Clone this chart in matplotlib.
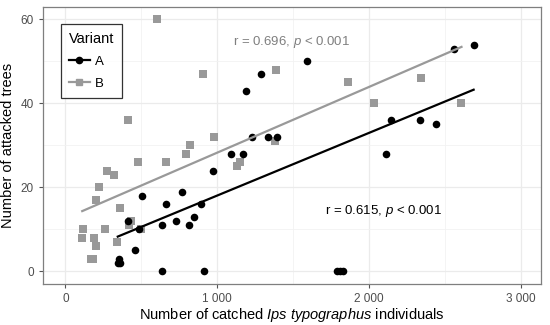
import numpy as np
import matplotlib.pyplot as plt
from matplotlib.lines import Line2D
from matplotlib.ticker import FixedLocator, MultipleLocator

plt.rcParams['font.family'] = ['Liberation Sans', 'DejaVu Sans']
plt.rcParams['mathtext.fontset'] = 'custom'
plt.rcParams['mathtext.rm'] = 'Liberation Sans'
plt.rcParams['mathtext.it'] = 'Liberation Sans:italic'

# variant A (black dots)
a_x = [1287, 1190, 1231, 1335, 1392, 2557, 2689, 1594, 2143, 2333, 2442, 1091,
       1172, 970, 766, 507, 660, 895, 845, 726, 636, 816, 410, 482, 456, 352,
       345, 362, 634, 911, 2113, 1790, 1810, 1830]
a_y = [47, 43, 32, 32, 32, 53, 54, 50, 36, 36, 35, 28,
       28, 24, 19, 18, 16, 16, 13, 12, 11, 11, 12, 10, 5, 3,
       2, 2, 0, 0, 28, 0, 0, 0]

# variant B (grey squares)
b_x = [601, 904, 1388, 410, 981, 823, 1383, 797, 1153, 1128, 478, 665, 272,
       322, 221, 203, 359, 432, 419, 498, 115, 262, 111, 190, 340, 203, 168,
       185, 1862, 2341, 2034, 2609]
b_y = [60, 47, 48, 36, 32, 30, 31, 28, 26, 25, 26, 26, 24,
       23, 20, 17, 15, 12, 11, 10, 10, 10, 8, 8, 7, 6, 3,
       3, 45, 46, 40, 40]

# regression lines (intercept, slope)
a_fit = (3.15, 0.01492)
b_fit = (12.63, 0.01565)

x_ticks = [0, 1000, 2000, 3000]
x_labels = ['0', '1 000', '2 000', '3 000']
y_ticks = [0, 20, 40, 60]

grey = '#999999'

fig = plt.figure(figsize=(5.5, 3.25), dpi=100)
ax = fig.add_axes([0.078, 0.126, 0.906, 0.853])

ax.scatter(b_x, b_y, marker='s', s=26, color=grey, linewidths=0, zorder=3)
ax.scatter(a_x, a_y, marker='o', s=30, color='black', linewidths=0, zorder=4)

xa = np.array([min(a_x), max(a_x)])
xb = np.array([min(b_x), max(b_x)])
ax.plot(xb, b_fit[0] + b_fit[1] * xb, color=grey, lw=1.6, zorder=5)
ax.plot(xa, a_fit[0] + a_fit[1] * xa, color='black', lw=1.6, zorder=5)

ax.text(1487, 54.6, r'r = 0.696, $\it{p}$ < 0.001', color='#7f7f7f',
        fontsize=9.5, ha='center', va='center')
ax.text(2098, 14.4, r'r = 0.615, $\it{p}$ < 0.001', color='black',
        fontsize=9.5, ha='center', va='center')

ax.set_xlim(-148, 3134)
ax.set_ylim(-3, 63)
ax.xaxis.set_major_locator(FixedLocator(x_ticks))
ax.set_xticklabels(x_labels)
ax.xaxis.set_minor_locator(MultipleLocator(500))
ax.yaxis.set_major_locator(FixedLocator(y_ticks))
ax.yaxis.set_minor_locator(MultipleLocator(10))

ax.grid(which='major', color='#ebebeb', lw=0.9, zorder=0)
ax.grid(which='minor', color='#f2f2f2', lw=0.6, zorder=0)
ax.set_axisbelow(True)
ax.tick_params(which='major', colors='#555555', labelsize=8.5, length=3, width=0.8,
               labelcolor='#4d4d4d')
ax.tick_params(which='minor', length=0)
for s in ax.spines.values():
    s.set_color('#7f7f7f')
    s.set_linewidth(0.9)

ax.set_xlabel(r'Number of catched $\it{Ips\ typographus}$ individuals', fontsize=10.5,
              labelpad=1)
ax.set_ylabel('Number of attacked trees', fontsize=10.5, labelpad=4)

handles = [Line2D([], [], color='black', marker='o', markersize=4.5, lw=1.6),
           Line2D([], [], color=grey, marker='s', markersize=4.5, lw=1.6)]
leg = ax.legend(handles, ['A', 'B'], title='Variant', loc='upper left',
                bbox_to_anchor=(0.036, 0.939), borderaxespad=0, fontsize=9.5,
                title_fontsize=10.5, frameon=True, fancybox=False,
                handlelength=1.6, handletextpad=0.4, borderpad=0.6,
                labelspacing=0.75)
leg.get_frame().set_edgecolor('black')
leg.get_frame().set_linewidth(0.9)
leg._legend_box.align = 'left'

fig.savefig('out.png', dpi=100)
